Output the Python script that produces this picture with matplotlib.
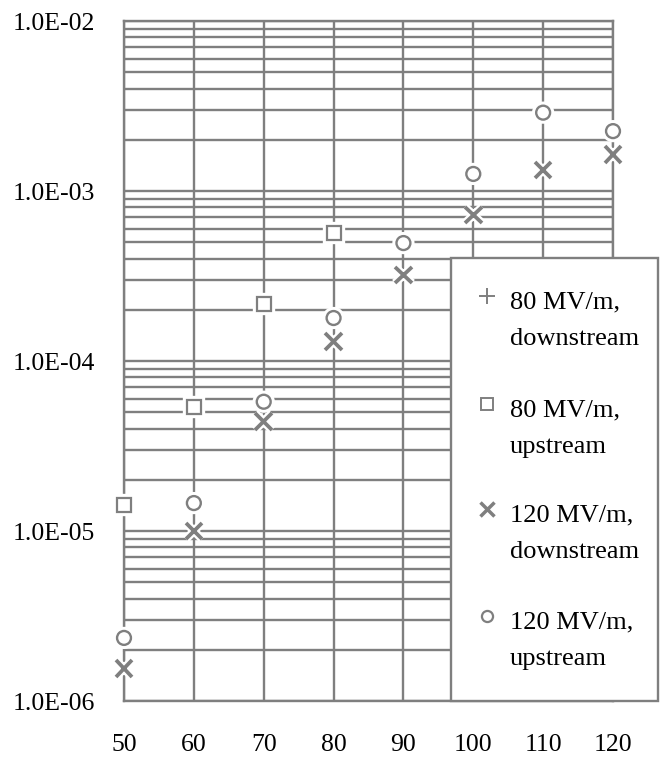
import numpy as np
import matplotlib
matplotlib.use("Agg")
import matplotlib.pyplot as plt
import matplotlib.patheffects as pe
from matplotlib.lines import Line2D
from matplotlib.patches import Rectangle

# --- data ---
gradient = [50, 60, 70, 80, 90, 100, 110, 120]

down_80_x = [50, 60, 70]
down_80 = [2.2e-6, 1.37e-5, 5.4e-5]

up_80_x = [50, 60, 70, 80]
up_80 = [1.42e-5, 5.38e-5, 2.16e-4, 5.66e-4]

down_120 = [1.56e-6, 1.0e-5, 4.39e-5, 1.30e-4, 3.2e-4, 7.22e-4, 1.33e-3, 1.64e-3]
up_120 = [2.35e-6, 1.46e-5, 5.76e-5, 1.79e-4, 4.94e-4, 1.26e-3, 2.89e-3, 2.25e-3]

ytick_vals = [1e-6, 1e-5, 1e-4, 1e-3, 1e-2]
ytick_labels = ["1.0E-06", "1.0E-05", "1.0E-04", "1.0E-03", "1.0E-02"]

legend_labels = [("80 MV/m,", "downstream"), ("80 MV/m,", "upstream"),
                 ("120 MV/m,", "downstream"), ("120 MV/m,", "upstream")]

W, H = 663, 757
GREY = "#7f7f7f"
SERIF = "Liberation Serif"

fig = plt.figure(figsize=(W / 100, H / 100), dpi=100)
ax = fig.add_axes([124 / W, 1 - 701 / H, (613 - 124) / W, (701 - 21) / H])
ax.set_yscale("log")
ax.set_xlim(50, 120)
ax.set_ylim(1e-6, 1e-2)

ax.set_xticks(gradient)
ax.set_xticklabels([str(g) for g in gradient], fontfamily=SERIF, fontsize=18.5)
ax.set_yticks(ytick_vals)
ax.set_yticklabels(ytick_labels, fontfamily=SERIF, fontsize=18.5)
ax.yaxis.set_minor_locator(matplotlib.ticker.LogLocator(base=10, subs=np.arange(2, 10)))
ax.yaxis.set_minor_formatter(matplotlib.ticker.NullFormatter())
ax.tick_params(axis="both", which="both", length=0)
ax.tick_params(axis="y", pad=21)
ax.tick_params(axis="x", pad=24)

ax.grid(True, which="both", axis="y", color=GREY, linewidth=1.7)
ax.grid(True, which="major", axis="x", color=GREY, linewidth=1.7)
ax.set_axisbelow(True)
for s in ax.spines.values():
    s.set_color(GREY)
    s.set_linewidth(1.7)

# white halo so the markers break the grid lines
halo = [pe.Stroke(linewidth=6, foreground="white"), pe.Normal()]

ax.plot(down_80_x, down_80, linestyle="none", marker="+", ms=13, mew=1.5,
        color=GREY, clip_on=False, zorder=3)
ax.plot(up_80_x, up_80, linestyle="none", marker="s", ms=10, mew=1.6,
        mfc="white", mec=GREY, clip_on=False, zorder=4, path_effects=halo)
ax.plot(gradient, down_120, linestyle="none", marker="x", ms=12, mew=2.7,
        color=GREY, clip_on=False, zorder=4, path_effects=halo)
ax.plot(gradient, up_120, linestyle="none", marker="o", ms=10, mew=1.7,
        mfc="white", mec=GREY, clip_on=False, zorder=5, path_effects=halo)

# --- legend box drawn by hand so markers sit on the first text line ---
fig.add_artist(Rectangle((451 / W, 1 - 701 / H), (658 - 451) / W, (701 - 258) / H,
                         transform=fig.transFigure, facecolor="white",
                         edgecolor=GREY, linewidth=1.7, zorder=10))
leg_markers = [dict(marker="+", ms=12, mew=1.4, color=GREY),
               dict(marker="s", ms=8, mew=1.4, mfc="white", mec=GREY),
               dict(marker="x", ms=10, mew=2.5, color=GREY),
               dict(marker="o", ms=8, mew=1.6, mfc="white", mec=GREY)]
base = [308, 416, 521, 628]
for (l1, l2), mk, b in zip(legend_labels, leg_markers, base):
    fig.add_artist(Line2D([487 / W], [1 - (b - 12) / H], transform=fig.transFigure,
                          linestyle="none", zorder=11, **mk))
    fig.text(510 / W, 1 - b / H, l1, fontfamily=SERIF, fontsize=19,
             va="baseline", ha="left", zorder=11)
    fig.text(510 / W, 1 - (b + 37) / H, l2, fontfamily=SERIF, fontsize=19,
             va="baseline", ha="left", zorder=11)

fig.savefig("out.png", dpi=100)
